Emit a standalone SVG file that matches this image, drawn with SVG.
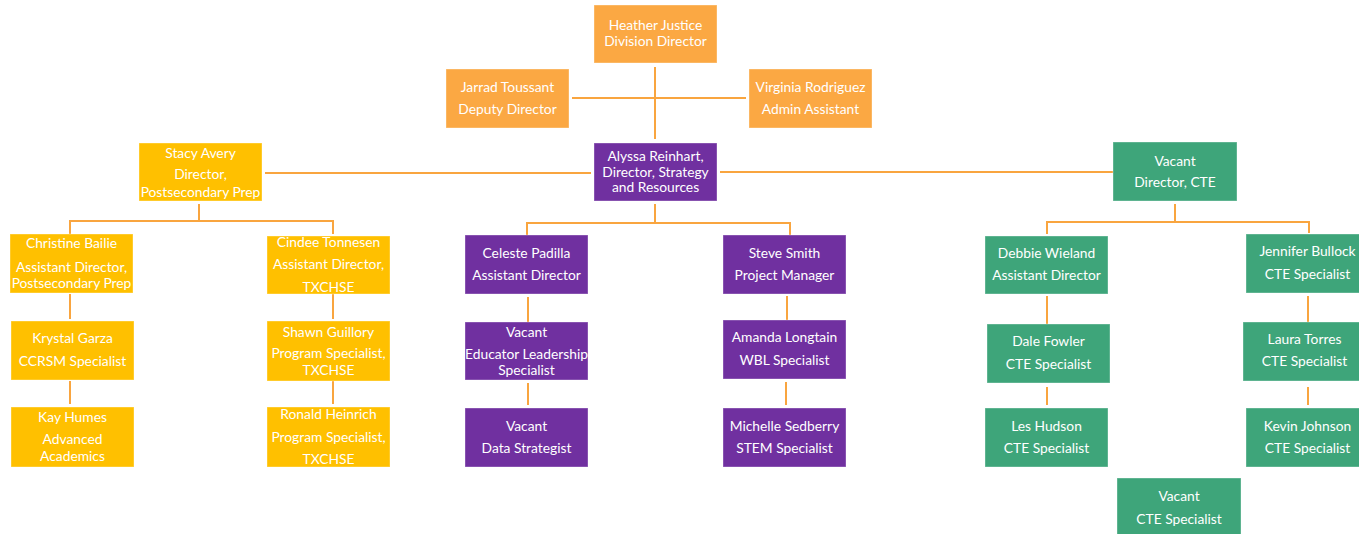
<svg xmlns="http://www.w3.org/2000/svg" width="1359" height="534" viewBox="0 0 1359 534">
<style>
.o{fill:#FBA843}
.y{fill:#FFC000}
.p{fill:#7030A0}
.g{fill:#3EA57A}
rect{stroke:#ffffff;stroke-opacity:0.35;stroke-width:1}
text{font-family:Lato,"Open Sans","Liberation Sans",sans-serif;font-size:13.8px;fill:#ffffff;text-anchor:middle}
#connectors path{stroke:#F9A53F;stroke-width:2;fill:none}
</style>
<rect width="1359" height="534" fill="#ffffff" stroke="none"/>
<g id="connectors">
<path d="M655 67V139M572 98H746"/>
<path d="M265 173H591M720 172H1115"/>
<path d="M199 204V221M70 234V221H333V234"/>
<path d="M70 294V319M70 381V404M333 294V319M333 381V404"/>
<path d="M655 204V223M527 235V223H790V235"/>
<path d="M528 297V322M528 383V405M787 296V320M786 382V405"/>
<path d="M1175 204V222M1047 234V222H1309V233"/>
<path d="M1047 296V324M1047 387V405M1308 296V323M1308 387V405"/>
</g>
<g id="heather"><rect class="o" x="594" y="5" width="123" height="58"/><text x="655.5" y="30">Heather Justice</text><text x="655.5" y="46">Division Director</text></g>
<g id="jarrad"><rect class="o" x="446" y="69" width="123" height="59"/><text x="507.5" y="92">Jarrad Toussant</text><text x="507.5" y="114">Deputy Director</text></g>
<g id="virginia"><rect class="o" x="749" y="69" width="123" height="59"/><text x="810.5" y="92">Virginia Rodriguez</text><text x="810.5" y="114">Admin Assistant</text></g>
<g id="alyssa"><rect class="p" x="594" y="143" width="123" height="58"/><text x="655.5" y="161">Alyssa Reinhart,</text><text x="655.5" y="177">Director, Strategy</text><text x="655.5" y="192">and Resources</text></g>
<g id="stacy"><rect class="y" x="139" y="143" width="123" height="58"/><text x="200.5" y="158">Stacy Avery</text><text x="200.5" y="179">Director,</text><text x="200.5" y="197">Postsecondary Prep</text></g>
<g id="christine"><rect class="y" x="10" y="234" width="123" height="59"/><text x="71.5" y="248">Christine Bailie</text><text x="71.5" y="272">Assistant Director,</text><text x="71.5" y="288">Postsecondary Prep</text></g>
<g id="cindee"><rect class="y" x="267" y="236" width="123" height="58"/><text x="328.5" y="247">Cindee Tonnesen</text><text x="328.5" y="269">Assistant Director,</text><text x="328.5" y="292">TXCHSE</text></g>
<g id="krystal"><rect class="y" x="11" y="321" width="123" height="59"/><text x="72.5" y="343">Krystal Garza</text><text x="72.5" y="366">CCRSM Specialist</text></g>
<g id="kay"><rect class="y" x="11" y="407" width="123" height="60"/><text x="72.5" y="422">Kay Humes</text><text x="72.5" y="444">Advanced</text><text x="72.5" y="461">Academics</text></g>
<g id="shawn"><rect class="y" x="267" y="321" width="123" height="60"/><text x="328.5" y="337">Shawn Guillory</text><text x="328.5" y="358">Program Specialist,</text><text x="328.5" y="375">TXCHSE</text></g>
<g id="ronald"><rect class="y" x="267" y="407" width="123" height="60"/><text x="328.5" y="419">Ronald Heinrich</text><text x="328.5" y="442">Program Specialist,</text><text x="328.5" y="464">TXCHSE</text></g>
<g id="celeste"><rect class="p" x="465" y="235" width="123" height="59"/><text x="526.5" y="258">Celeste Padilla</text><text x="526.5" y="280">Assistant Director</text></g>
<g id="vacant-educator"><rect class="p" x="465" y="322" width="123" height="58"/><text x="526.5" y="337">Vacant</text><text x="526.5" y="359">Educator Leadership</text><text x="526.5" y="375">Specialist</text></g>
<g id="vacant-data"><rect class="p" x="465" y="408" width="123" height="59"/><text x="526.5" y="431">Vacant</text><text x="526.5" y="453">Data Strategist</text></g>
<g id="steve"><rect class="p" x="723" y="235" width="123" height="59"/><text x="784.5" y="258">Steve Smith</text><text x="784.5" y="280">Project Manager</text></g>
<g id="amanda"><rect class="p" x="723" y="320" width="123" height="59"/><text x="784.5" y="342">Amanda Longtain</text><text x="784.5" y="365">WBL Specialist</text></g>
<g id="michelle"><rect class="p" x="723" y="408" width="123" height="59"/><text x="784.5" y="431">Michelle Sedberry</text><text x="784.5" y="453">STEM Specialist</text></g>
<g id="vacant-director-cte"><rect class="g" x="1113" y="142" width="124" height="59"/><text x="1175" y="166">Vacant</text><text x="1175" y="187">Director, CTE</text></g>
<g id="debbie"><rect class="g" x="985" y="236" width="123" height="58"/><text x="1046.5" y="258">Debbie Wieland</text><text x="1046.5" y="280">Assistant Director</text></g>
<g id="jennifer"><rect class="g" x="1246" y="234" width="123" height="59"/><text x="1307.5" y="256">Jennifer Bullock</text><text x="1307.5" y="279">CTE Specialist</text></g>
<g id="dale"><rect class="g" x="987" y="324" width="123" height="59"/><text x="1048.5" y="346">Dale Fowler</text><text x="1048.5" y="369">CTE Specialist</text></g>
<g id="les"><rect class="g" x="985" y="408" width="123" height="59"/><text x="1046.5" y="431">Les Hudson</text><text x="1046.5" y="453">CTE Specialist</text></g>
<g id="laura"><rect class="g" x="1243" y="322" width="123" height="59"/><text x="1304.5" y="344">Laura Torres</text><text x="1304.5" y="366">CTE Specialist</text></g>
<g id="kevin"><rect class="g" x="1246" y="408" width="123" height="59"/><text x="1307.5" y="431">Kevin Johnson</text><text x="1307.5" y="453">CTE Specialist</text></g>
<g id="vacant-cte"><rect class="g" x="1117" y="478" width="124" height="62"/><text x="1179" y="501">Vacant</text><text x="1179" y="524">CTE Specialist</text></g>
</svg>
